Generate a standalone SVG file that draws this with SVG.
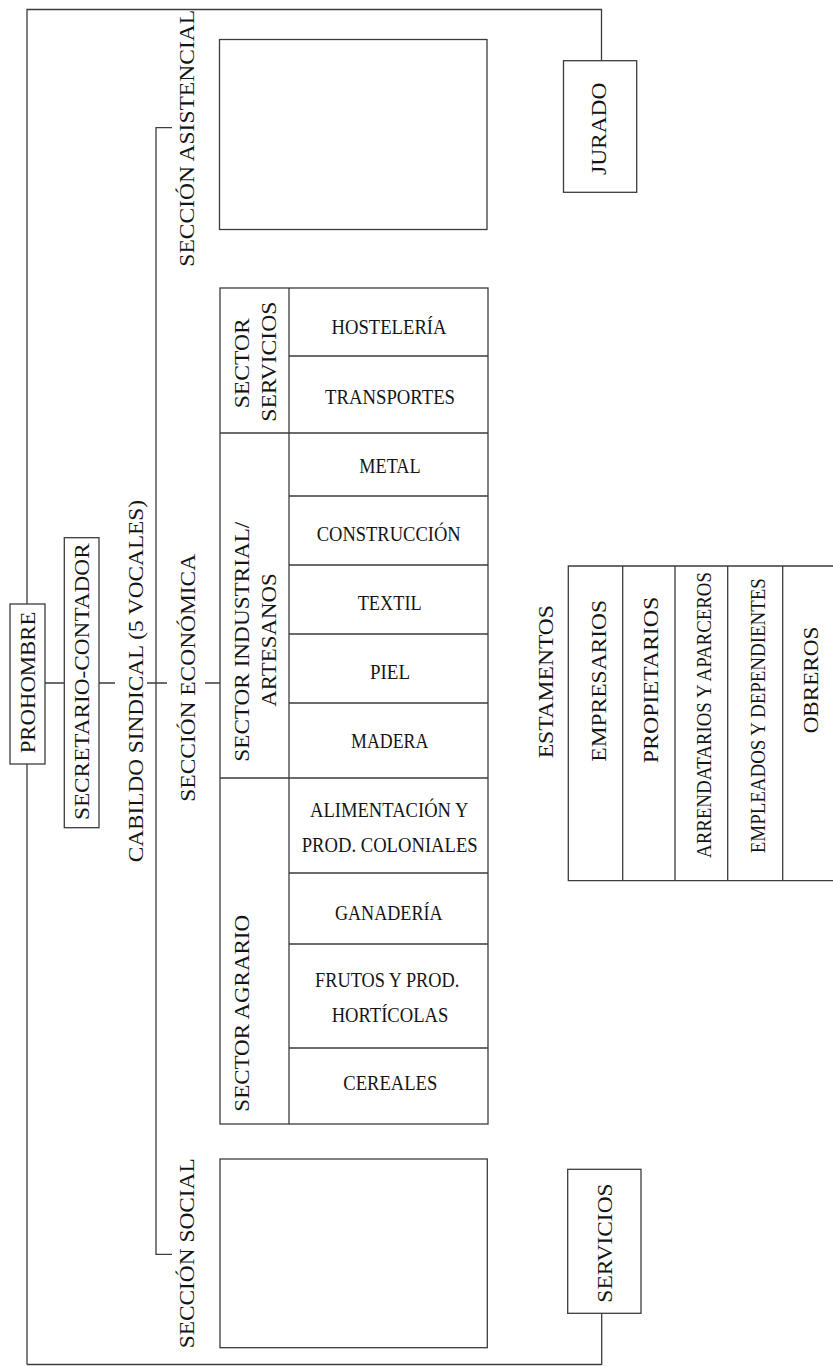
<svg xmlns="http://www.w3.org/2000/svg" width="833" height="1366" viewBox="0 0 833 1366">
<style>
.ln{stroke:#3c3c3c;stroke-width:1.3;fill:none}
.bx{stroke:#3c3c3c;stroke-width:1.3;fill:#fff}
.t{font-family:"Liberation Serif","DejaVu Serif",serif;font-size:22px;fill:#151515;text-anchor:middle}
</style>
<rect width="833" height="1366" fill="#fff"/>
<g id="connectors">
<path class="ln" d="M27,1364.5 V9.5 H601.5 V60.7"/>
<path class="ln" d="M27,1364.5 H601.7 V1313.3"/>
<path class="ln" d="M172,127.7 H156 V1254.3 H172"/>
<path class="ln" d="M45,683 H64.3 M99,683 H115 M147,683 H167 M205,683 H220"/>
</g>
<g id="prohombre">
<rect class="bx" x="10" y="604" width="35" height="160"/>
<text class="t" transform="translate(35,682.5) rotate(-90)" textLength="141.7" lengthAdjust="spacingAndGlyphs">PROHOMBRE</text>
</g>
<g id="secretario">
<rect class="bx" x="64.3" y="537.7" width="34.7" height="290"/>
<text class="t" transform="translate(89,681.7) rotate(-90)" textLength="276.7" lengthAdjust="spacingAndGlyphs">SECRETARIO-CONTADOR</text>
</g>
<g id="cabildo">
<text class="t" transform="translate(142.5,681.2) rotate(-90)" textLength="362.3" lengthAdjust="spacingAndGlyphs">CABILDO SINDICAL (5 VOCALES)</text>
</g>
<g id="seccion-asistencial">
<text class="t" transform="translate(194,138.3) rotate(-90)" textLength="256.7" lengthAdjust="spacingAndGlyphs">SECCIÓN ASISTENCIAL</text>
<rect class="bx" x="219.5" y="39.5" width="267.5" height="190"/>
</g>
<g id="seccion-economica">
<text class="t" transform="translate(195,677.8) rotate(-90)" textLength="247.7" lengthAdjust="spacingAndGlyphs">SECCIÓN ECONÓMICA</text>
<rect class="bx" x="220" y="288" width="268" height="836"/>
<path class="ln" d="M289,288 V1124 M220,433 H488 M220,778 H488 M289,356 H488 M289,496 H488 M289,565 H488 M289,634 H488 M289,703 H488 M289,873 H488 M289,944 H488 M289,1048 H488"/>
<text class="t" transform="translate(249,363.3) rotate(-90)" textLength="90" lengthAdjust="spacingAndGlyphs">SECTOR</text>
<text class="t" transform="translate(276,361.7) rotate(-90)" textLength="120" lengthAdjust="spacingAndGlyphs">SERVICIOS</text>
<text class="t" transform="translate(249,641.7) rotate(-90)" textLength="240" lengthAdjust="spacingAndGlyphs">SECTOR INDUSTRIAL/</text>
<text class="t" transform="translate(276,640) rotate(-90)" textLength="133.3" lengthAdjust="spacingAndGlyphs">ARTESANOS</text>
<text class="t" transform="translate(249,1013.3) rotate(-90)" textLength="196.7" lengthAdjust="spacingAndGlyphs">SECTOR AGRARIO</text>
<text class="t" x="389" y="334" textLength="115" lengthAdjust="spacingAndGlyphs">HOSTELERÍA</text>
<text class="t" x="390" y="404" textLength="130" lengthAdjust="spacingAndGlyphs">TRANSPORTES</text>
<text class="t" x="390" y="473" textLength="61.3" lengthAdjust="spacingAndGlyphs">METAL</text>
<text class="t" x="388.7" y="541" textLength="144" lengthAdjust="spacingAndGlyphs">CONSTRUCCIÓN</text>
<text class="t" x="389.7" y="610" textLength="64" lengthAdjust="spacingAndGlyphs">TEXTIL</text>
<text class="t" x="390" y="679" textLength="40" lengthAdjust="spacingAndGlyphs">PIEL</text>
<text class="t" x="389.7" y="747.5" textLength="77.3" lengthAdjust="spacingAndGlyphs">MADERA</text>
<text class="t" x="389.2" y="816.5" textLength="158.3" lengthAdjust="spacingAndGlyphs">ALIMENTACIÓN Y</text>
<text class="t" x="389.7" y="851.5" textLength="176" lengthAdjust="spacingAndGlyphs">PROD. COLONIALES</text>
<text class="t" x="388.8" y="920" textLength="107.7" lengthAdjust="spacingAndGlyphs">GANADERÍA</text>
<text class="t" x="387.2" y="986.5" textLength="144.3" lengthAdjust="spacingAndGlyphs">FRUTOS Y PROD.</text>
<text class="t" x="390" y="1021.5" textLength="116.7" lengthAdjust="spacingAndGlyphs">HORTÍCOLAS</text>
<text class="t" x="390.3" y="1090" textLength="94" lengthAdjust="spacingAndGlyphs">CEREALES</text>
</g>
<g id="seccion-social">
<text class="t" transform="translate(194,1253.3) rotate(-90)" textLength="190" lengthAdjust="spacingAndGlyphs">SECCIÓN SOCIAL</text>
<rect class="bx" x="220" y="1159" width="267.3" height="188.7"/>
</g>
<g id="jurado">
<rect class="bx" x="563.5" y="60.7" width="73.2" height="131.6"/>
<text class="t" transform="translate(606,128.8) rotate(-90)" textLength="92.3" lengthAdjust="spacingAndGlyphs">JURADO</text>
</g>
<g id="servicios">
<rect class="bx" x="567.7" y="1169.3" width="73.3" height="144"/>
<text class="t" transform="translate(612,1243) rotate(-90)" textLength="119.3" lengthAdjust="spacingAndGlyphs">SERVICIOS</text>
</g>
<g id="estamentos">
<text class="t" transform="translate(553,681.7) rotate(-90)" textLength="153.3" lengthAdjust="spacingAndGlyphs">ESTAMENTOS</text>
<path class="ln" d="M833,566 H568.3 V880.7 H833 M622.7,566 V880.7 M675,566 V880.7 M727.7,566 V880.7 M782.7,566 V880.7"/>
<text class="t" transform="translate(606,680.8) rotate(-90)" textLength="161.7" lengthAdjust="spacingAndGlyphs">EMPRESARIOS</text>
<text class="t" transform="translate(658,680) rotate(-90)" textLength="166.7" lengthAdjust="spacingAndGlyphs">PROPIETARIOS</text>
<text class="t" transform="translate(711,715) rotate(-90)" textLength="286" lengthAdjust="spacingAndGlyphs">ARRENDATARIOS Y APARCEROS</text>
<text class="t" transform="translate(765,715.7) rotate(-90)" textLength="275" lengthAdjust="spacingAndGlyphs">EMPLEADOS Y DEPENDIENTES</text>
<text class="t" transform="translate(818,680) rotate(-90)" textLength="106.7" lengthAdjust="spacingAndGlyphs">OBREROS</text>
</g>
</svg>
